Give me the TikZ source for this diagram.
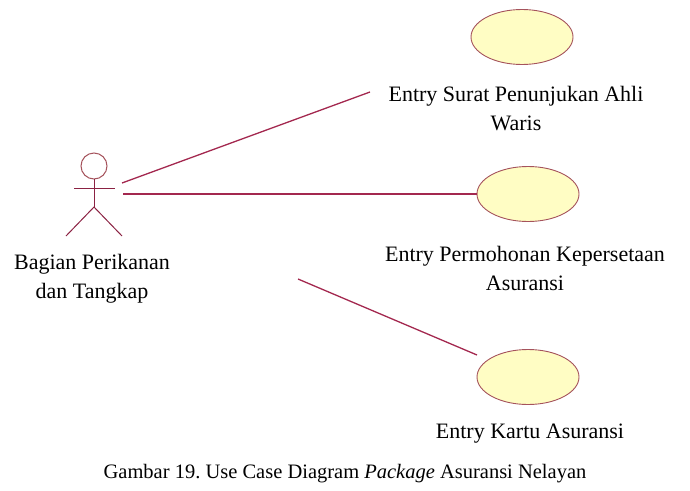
\documentclass[tikz,border=0pt]{standalone}
\usepackage{fontspec}
\setmainfont{Liberation Serif}
\usetikzlibrary{shapes.geometric}

\definecolor{assoc}{HTML}{A3284F}
\definecolor{ucfill}{HTML}{FFFDC4}
\definecolor{ucline}{HTML}{A5535C}

\tikzset{
	usecase/.style={ellipse, draw=ucline, fill=ucfill, line width=0.9pt, minimum width=102pt, minimum height=55pt, inner sep=0pt},
	uclabel/.style={align=center, inner sep=0pt, font=\fontsize{22}{29}\selectfont},
	assocline/.style={draw=assoc, line width=1.3pt},
	actorline/.style={draw=assoc!85!black, line width=1pt}
}

\begin{document}
\begin{tikzpicture}[x=1pt,y=1pt]
\useasboundingbox (0,0) rectangle (690,-490);
% actor
\coordinate (act) at (94,-166);
\draw[actorline, draw=ucline] (act) circle (13);
\draw[actorline] (74,-188) -- (115,-188);
\draw[actorline] (94,-179) -- (94,-207) coordinate (hip);
\draw[actorline] (66,-236) -- (hip) -- (122,-236);
\node[uclabel] (actlbl) at (92,-279) {Bagian Perikanan\\dan Tangkap};
% use cases
\node[usecase] (surat) at (522,-37) {};
\node[uclabel] (suratlbl) at (516,-109) {Entry Surat Penunjukan Ahli\\Waris};
\node[usecase] (mohon) at (528,-194) {};
\node[uclabel] (mohonlbl) at (525,-268) {Entry Permohonan Kepersetaan\\Asuransi};
\node[usecase] (kartu) at (528,-377) {};
\node[uclabel, anchor=base] (kartulbl) at (530,-438) {Entry Kartu Asuransi};
% associations
\coordinate (a1) at (122,-183);
\coordinate (e1) at (370,-92);
\coordinate (a2) at (123,-194);
\coordinate (a3) at (298,-279);
\coordinate (e3) at (477,-355);
\draw[assocline] (a1) -- (e1);
\draw[assocline] (a2) -- (mohon.west);
\draw[assocline] (a3) -- (e3);
% caption
\node[anchor=base, inner sep=0pt, font=\fontsize{20.5}{24}\selectfont] (cap) at (345,-478) {Gambar 19.\ Use Case Diagram \textit{Package} Asuransi Nelayan};
\end{tikzpicture}
\end{document}
